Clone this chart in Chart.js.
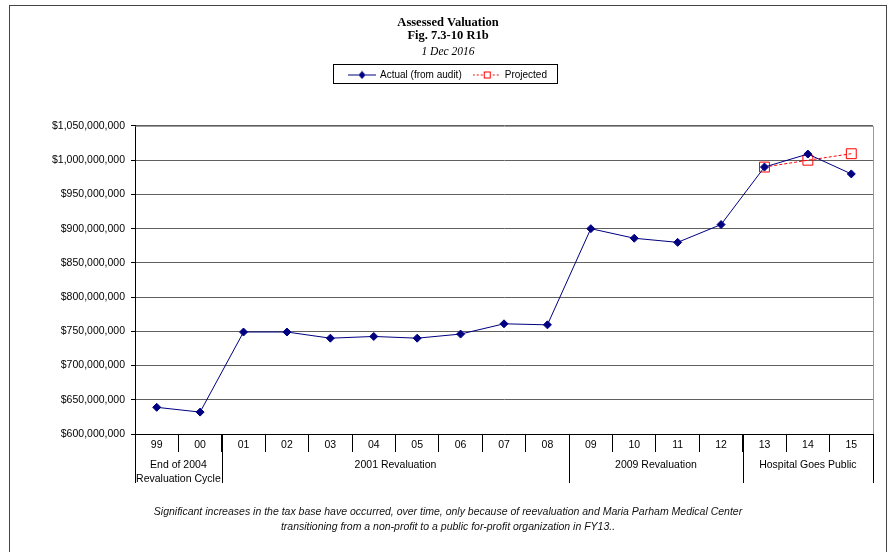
<!DOCTYPE html>
<html>
<head>
<meta charset="utf-8">
<script src="https://cdn.jsdelivr.net/npm/chart.js@4/dist/chart.umd.min.js"></script>
<style>
  html, body { margin: 0; padding: 0; background: #fff; }
</style>
</head>
<body>
<canvas id="valuationChart" width="890" height="552"></canvas>
<script>
// fiscal years (category axis)
const years = ['99', '00', '01', '02', '03', '04', '05', '06', '07', '08',
  '09', '10', '11', '12', '13', '14', '15'];

// assessed valuation, dollars
const actualValues = [639e6, 632e6, 749e6, 749e6, 740e6, 742.5e6, 740e6, 746e6, 761e6, 759.5e6,
  900e6, 886e6, 880e6, 906e6, 990e6, 1009e6, 980e6];
const projectedValues = [null, null, null, null, null, null, null, null, null, null,
  null, null, null, null, 990e6, 1000e6, 1009.5e6];

// second row of the category axis
const groupLabels = [['End of 2004', 'Revaluation Cycle'], ['2001 Revaluation'], ['2009 Revaluation'], ['Hospital Goes Public']];
const groupSizes = [2, 8, 4, 3];

// value axis
const yMin = 600e6;
const yMax = 1050e6;
const yStep = 50e6;

const titleLines = ['Assessed Valuation', 'Fig. 7.3-10 R1b'];
const dateLine = '1 Dec 2016';
const footnote = [
  'Significant increases in the tax base have occurred, over time, only because of reevaluation and Maria Parham Medical Center',
  'transitioning from a non-profit to a public for-profit organization in FY13..'
];

const SANS = "'Liberation Sans', Arial, sans-serif";
const SERIF = "'Liberation Serif', 'Times New Roman', serif";

// little line+marker pictures for the legend
function legendIcon(color, dashed, marker) {
  const c = document.createElement('canvas');
  c.width = 28;
  c.height = 9;
  const g = c.getContext('2d');
  g.strokeStyle = color;
  g.lineWidth = 1;
  if (dashed) g.setLineDash([2, 2]);
  g.beginPath();
  g.moveTo(0, 4.5);
  g.lineTo(28, 4.5);
  g.stroke();
  g.setLineDash([]);
  if (marker === 'diamond') {
    g.fillStyle = color;
    g.beginPath();
    g.moveTo(14, 0.5); g.lineTo(17.5, 4.5); g.lineTo(14, 8.5); g.lineTo(10.5, 4.5);
    g.closePath();
    g.fill();
  } else {
    g.fillStyle = '#fff';
    g.fillRect(11.5, 1.5, 6, 6);
    g.strokeRect(11.5, 1.5, 6, 6);
  }
  return c;
}
const icons = [legendIcon('#000080', false, 'diamond'), legendIcon('#ff0000', true, 'square')];

// outer frame, plot border, legend box, grouped axis row, footnote
const decorations = {
  id: 'decorations',
  beforeDraw(chart) {
    const ctx = chart.ctx;
    ctx.save();
    ctx.fillStyle = '#fff';
    ctx.fillRect(0, 0, chart.width, chart.height);
    ctx.strokeStyle = '#444';
    ctx.lineWidth = 1;
    ctx.strokeRect(9.5, 5.5, 877, 600);
    ctx.restore();
  },
  beforeDatasetsDraw(chart) {
    const { ctx, chartArea: a } = chart;
    ctx.save();
    ctx.strokeStyle = '#999';
    ctx.lineWidth = 1;
    ctx.beginPath();
    ctx.moveTo(Math.round(a.left) + 0.5, Math.round(a.top) + 0.5);
    ctx.lineTo(Math.round(a.right) + 0.5, Math.round(a.top) + 0.5);
    ctx.lineTo(Math.round(a.right) + 0.5, Math.round(a.bottom));
    ctx.stroke();
    ctx.restore();
  },
  afterDraw(chart) {
    const ctx = chart.ctx;
    const x = chart.scales.x;
    ctx.save();

    // legend frame
    const hb = chart.legend.legendHitBoxes;
    if (hb && hb.length) {
      const last = hb[hb.length - 1];
      const l = Math.round(hb[0].left - 16) + 0.5;
      const r = Math.round(last.left + last.width + 10) + 0.5;
      const t = Math.round(hb[0].top - 6) + 0.5;
      ctx.strokeStyle = '#000';
      ctx.lineWidth = 1;
      ctx.strokeRect(l, t, r - l, 19);
    }

    // grouped labels under the years
    const half = (x.getPixelForValue(1) - x.getPixelForValue(0)) / 2;
    ctx.strokeStyle = '#000';
    ctx.fillStyle = '#000';
    ctx.font = '10.5px ' + SANS;
    ctx.textAlign = 'center';
    ctx.textBaseline = 'middle';
    let start = 0;
    groupSizes.forEach((size, i) => {
      const left = x.getPixelForValue(start) - half;
      const right = x.getPixelForValue(start + size - 1) + half;
      [left, right].forEach(px => {
        ctx.beginPath();
        ctx.moveTo(Math.round(px) + 0.5, x.top);
        ctx.lineTo(Math.round(px) + 0.5, x.top + 49);
        ctx.stroke();
      });
      groupLabels[i].forEach((line, k) => {
        ctx.fillText(line, (left + right) / 2, x.top + 31 + k * 14);
      });
      start += size;
    });

    // footnote, centred like the title
    ctx.font = 'italic 10.5px ' + SANS;
    ctx.fillStyle = '#111';
    const cx = (chart.legend.left + chart.legend.right) / 2;
    footnote.forEach((line, k) => {
      ctx.fillText(line, cx, 512 + k * 15.5);
    });
    ctx.restore();
  }
};

const ctx = document.getElementById('valuationChart').getContext('2d');
new Chart(ctx, {
  type: 'line',
  data: {
    labels: years,
    datasets: [
      {
        label: 'Actual (from audit)',
        data: actualValues,
        xAxisID: 'x',
        yAxisID: 'y',
        borderColor: '#000080',
        backgroundColor: '#000080',
        borderWidth: 1,
        pointStyle: 'rectRot',
        pointRadius: 4,
        pointHoverRadius: 4,
        tension: 0
      },
      {
        label: 'Projected',
        data: projectedValues,
        xAxisID: 'x',
        yAxisID: 'y',
        borderColor: '#ff0000',
        backgroundColor: 'rgba(0,0,0,0)',
        borderWidth: 1,
        borderDash: [3, 2],
        pointStyle: 'rect',
        pointRadius: 7,
        pointHoverRadius: 7,
        pointBorderColor: '#ff0000',
        pointBackgroundColor: 'rgba(0,0,0,0)',
        tension: 0
      }
    ]
  },
  options: {
    responsive: false,
    animation: false,
    layout: { padding: { left: 23, right: 17, top: 0, bottom: 0 } },
    plugins: {
      title: {
        display: true,
        text: titleLines,
        color: '#000',
        font: { family: SERIF, size: 12.5, weight: 'bold', lineHeight: 1.04 },
        padding: { top: 16.5, bottom: 0 }
      },
      subtitle: {
        display: true,
        text: dateLine,
        color: '#000',
        font: { family: SERIF, size: 11.5, style: 'italic', lineHeight: 1.13 },
        padding: { top: 2.5, bottom: 0 }
      },
      legend: {
        display: true,
        position: 'top',
        labels: {
          color: '#000',
          font: { family: SANS, size: 10 },
          usePointStyle: true,
          pointStyleWidth: 26,
          padding: 12,
          generateLabels: (chart) => {
            const items = Chart.defaults.plugins.legend.labels.generateLabels(chart);
            items.forEach((it, i) => { it.pointStyle = icons[i]; });
            return items;
          }
        }
      },
      tooltip: { enabled: false }
    },
    scales: {
      x: {
        type: 'category',
        position: 'bottom',
        offset: true,
        grid: {
          offset: true,
          drawOnChartArea: false,
          drawTicks: true,
          tickLength: 18,
          color: '#000'
        },
        border: { display: true, color: '#000' },
        ticks: {
          color: '#000',
          font: { family: SANS, size: 10.5 },
          padding: -13,
          maxRotation: 0,
          autoSkip: false
        },
        afterFit: (s) => { s.height = 118; }
      },
      y: {
        type: 'linear',
        position: 'left',
        min: yMin,
        max: yMax,
        grid: { color: '#606060', tickColor: '#000', tickLength: 4 },
        border: { display: true, color: '#000' },
        ticks: {
          stepSize: yStep,
          color: '#000',
          padding: 6,
          font: { family: SANS, size: 10.5 },
          callback: (v) => '$' + Number(v).toLocaleString('en-US')
        },
        afterFit: (s) => { s.width = 112; }
      },
      // empty band between the legend and the plot
      spacer: {
        type: 'category',
        axis: 'x',
        position: 'top',
        display: true,
        grid: { display: false },
        border: { display: false },
        ticks: { display: false },
        afterFit: (s) => { s.height = 36; }
      }
    }
  },
  plugins: [decorations]
});
</script>
</body>
</html>
